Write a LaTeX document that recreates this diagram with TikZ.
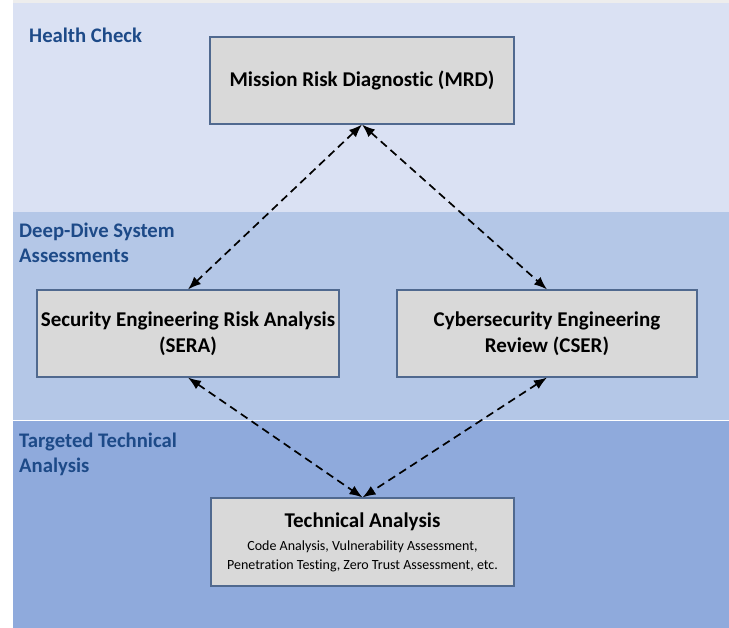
\documentclass[tikz,border=0pt]{standalone}
\usepackage{fontspec}
\setmainfont{Carlito}[Ligatures=NoCommon]
\usetikzlibrary{arrows.meta}
\definecolor{bandA}{HTML}{DAE1F3}
\definecolor{bandB}{HTML}{B4C7E7}
\definecolor{bandC}{HTML}{8FAADC}
\definecolor{lblue}{HTML}{1D4A88}
\definecolor{boxfill}{HTML}{D9D9D9}
\definecolor{boxline}{HTML}{50698F}
\tikzset{
  bandlabel/.style={anchor=base west, inner sep=0pt, text=lblue, font=\fontsize{20.7}{25}\selectfont\bfseries, align=left},
  boxnode/.style={draw=boxline, line width=1.1pt, fill=boxfill, inner sep=0pt, align=center, font=\fontsize{21}{26.5}\selectfont\bfseries},
  link/.style={dashed, dash pattern=on 8pt off 5pt, line width=1.7pt, {Latex[length=13pt,width=10pt]}-{Latex[length=13pt,width=10pt]}}
}
\begin{document}
\begin{tikzpicture}[x=1pt,y=-1pt]
\useasboundingbox (0,0) rectangle (729,628);
\fill[white] (0,0) rectangle (729,628);
\fill[black!7] (13,0) rectangle (729,3);
\fill[bandA] (13,3) rectangle (729,212);
\fill[bandB] (13,212) rectangle (729,420);
\fill[bandC] (13,420) rectangle (729,628);
\draw[white, line width=0.8pt] (13,420) -- (729,420);
\node[bandlabel] (lh) at (29,43) {Health Check};
\node[bandlabel] (ld) at (19,263) {Deep-Dive System\\Assessments};
\node[bandlabel] (lt) at (19,473) {Targeted Technical\\Analysis};
\node[boxnode, minimum width=304pt, minimum height=87pt] (mrd) at (362,80.5) {Mission Risk Diagnostic (MRD)};
\node[boxnode, minimum width=302pt, minimum height=87pt] (sera) at (188,333.5) {Security Engineering Risk Analysis\\(SERA)};
\node[boxnode, minimum width=300pt, minimum height=87pt] (cser) at (547,333.5) {Cybersecurity Engineering\\Review (CSER)};
\node[boxnode, minimum width=303pt, minimum height=88pt] (ta) at (362.5,542) {Technical Analysis\\[-3pt]{\fontsize{14}{17}\selectfont\mdseries Code Analysis, Vulnerability Assessment,}\\[-8pt]{\fontsize{14}{17}\selectfont\mdseries Penetration Testing, Zero Trust Assessment, etc.}};
\draw[link] (mrd.south) -- (sera.north);
\draw[link] (mrd.south) -- (cser.north);
\draw[link] (sera.south) -- (ta.north);
\draw[link] (cser.south) -- (ta.north);
\end{tikzpicture}
\end{document}
